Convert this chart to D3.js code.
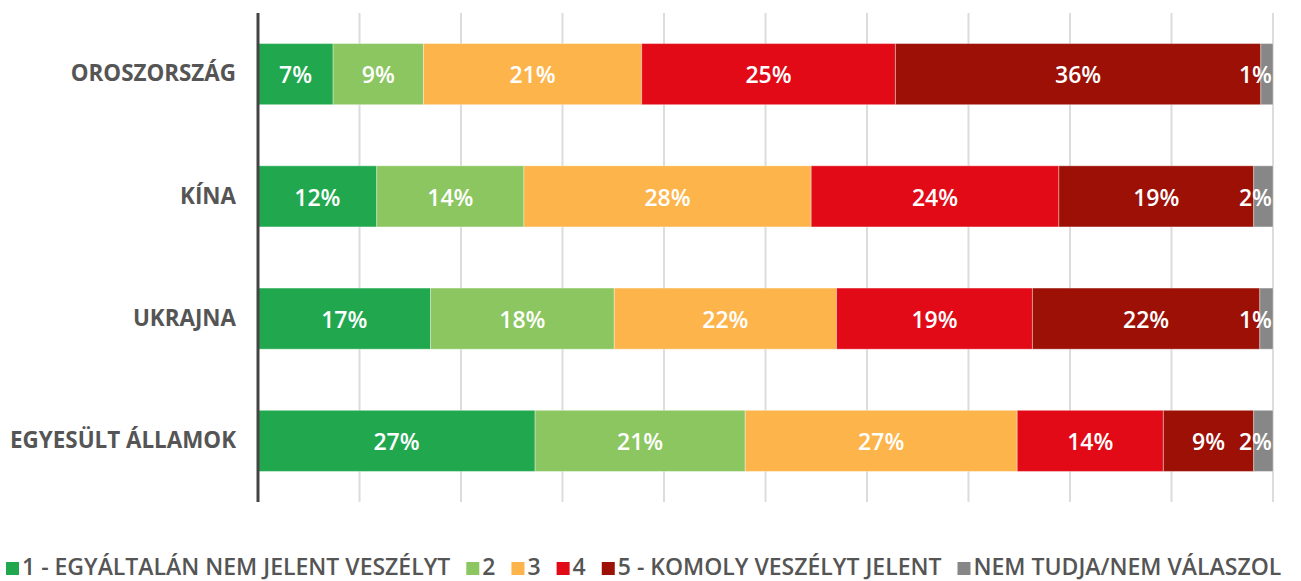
<!DOCTYPE html>
<html>
<head>
<meta charset="utf-8">
<script src="https://cdn.jsdelivr.net/npm/d3@7"></script>
<style>
  html, body { margin: 0; padding: 0; background: #fff; }
  svg { display: block; }
</style>
</head>
<body>
<svg id="chart" width="1301" height="581"></svg>
<script>
const categories = ["OROSZORSZÁG", "KÍNA", "UKRAJNA", "EGYESÜLT ÁLLAMOK"];
const seriesNames = ["1 - EGYÁLTALÁN NEM JELENT VESZÉLYT", "2", "3", "4", "5 - KOMOLY VESZÉLYT JELENT", "NEM TUDJA/NEM VÁLASZOL"];
const seriesColors = ["#21a84f", "#8bc660", "#fdb44b", "#e20a16", "#9c1006", "#878787"];
// values per series (one entry per category, in category order), in %
const s1 = [7.4, 11.7, 17.0, 27.3];
const s2 = [8.9, 14.5, 18.1, 20.7];
const s3 = [21.5, 28.3, 21.9, 26.8];
const s4 = [25.0, 24.4, 19.3, 14.4];
const s5 = [36.0, 19.2, 22.4, 8.9];
const s6 = [1.4, 2.0, 1.4, 2.1];
// printed labels
const l1 = ["7%", "12%", "17%", "27%"];
const l2 = ["9%", "14%", "18%", "21%"];
const l3 = ["21%", "28%", "22%", "27%"];
const l4 = ["25%", "24%", "19%", "14%"];
const l5 = ["36%", "19%", "22%", "9%"];
const l6 = ["1%", "2%", "1%", "2%"];
const xTicks = [0, 10, 20, 30, 40, 50, 60, 70, 80, 90, 100];

const seriesValues = [s1, s2, s3, s4, s5, s6];
const seriesLabels = [l1, l2, l3, l4, l5, l6];

const svg = d3.select("#chart");
const x = d3.scaleLinear().domain([0, 100]).range([258, 1273]);
const y = d3.scaleBand().domain(categories).range([13, 502]).paddingInner(0.5).paddingOuter(0.25);

// gridlines
svg.append("g").selectAll("line").data(xTicks.slice(1)).join("line")
  .attr("x1", d => x(d)).attr("x2", d => x(d))
  .attr("y1", 13).attr("y2", 502)
  .attr("stroke", "#dcdcdc").attr("stroke-width", 2);

// stacked bars
const rows = categories.map((c, i) => {
  let acc = 0;
  return seriesValues.map((s, j) => {
    const seg = { cat: c, j, x0: acc, x1: acc + s[i], label: seriesLabels[j][i] };
    acc += s[i];
    return seg;
  });
});
const segs = rows.flat();
const clip = d => Math.min(d, 100);

svg.append("g").selectAll("rect").data(segs).join("rect")
  .attr("x", d => x(d.x0))
  .attr("y", d => y(d.cat))
  .attr("width", d => Math.max(0, x(clip(d.x1)) - x(d.x0)))
  .attr("height", y.bandwidth())
  .attr("fill", d => seriesColors[d.j])
  .attr("stroke", "rgba(255,255,255,0.35)")
  .attr("stroke-width", 1);

const font = "'Open Sans', 'DejaVu Sans', sans-serif";

svg.append("g").selectAll("text").data(segs).join("text")
  .attr("x", d => d.j === 5 ? x(clip(d.x1)) - 1 : (x(d.x0) + x(clip(d.x1))) / 2)
  .attr("y", d => y(d.cat) + y.bandwidth() / 2 + 1)
  .attr("dy", "0.36em")
  .attr("text-anchor", d => d.j === 5 ? "end" : "middle")
  .attr("fill", "#fff")
  .attr("font-family", font)
  .attr("font-weight", 600)
  .attr("font-size", 23)
  .text(d => d.label);

// y axis (line + labels)
const yAxis = svg.append("g").attr("transform", `translate(${x(0)},0)`)
  .call(d3.axisLeft(y).tickSize(0).tickPadding(22));
yAxis.select(".domain").attr("stroke", "#444").attr("stroke-width", 3)
  .attr("d", `M0,13V502`);
yAxis.selectAll("text")
  .attr("font-family", font)
  .attr("font-weight", 700)
  .attr("font-size", 22.4)
  .attr("fill", "#555");

// legend: fit the row between x=6 and x=1296
const legendLeft = 6, legendRight = 1296, sq = 13, sqGap = 3, itemGap = 16;
const legend = svg.append("g").attr("font-family", font).attr("font-weight", 600);
const baseSize = 23;
const texts = seriesNames.map(n => legend.append("text").attr("font-size", baseSize).attr("fill", "#555").text(n));
const baseWidths = texts.map(t => t.node().getComputedTextLength());
const fixed = seriesNames.length * (sq + sqGap) + (seriesNames.length - 1) * itemGap;
const k = Math.min(1, (legendRight - legendLeft - fixed) / d3.sum(baseWidths));
const fs = baseSize * k;
const baseline = 575;
let lx = legendLeft;
texts.forEach((t, j) => {
  legend.append("rect").attr("x", lx).attr("y", baseline - 13).attr("width", sq).attr("height", sq).attr("fill", seriesColors[j]);
  t.attr("font-size", fs).attr("x", lx + sq + sqGap).attr("y", baseline);
  lx += sq + sqGap + baseWidths[j] * k + itemGap;
});
</script>
</body>
</html>
